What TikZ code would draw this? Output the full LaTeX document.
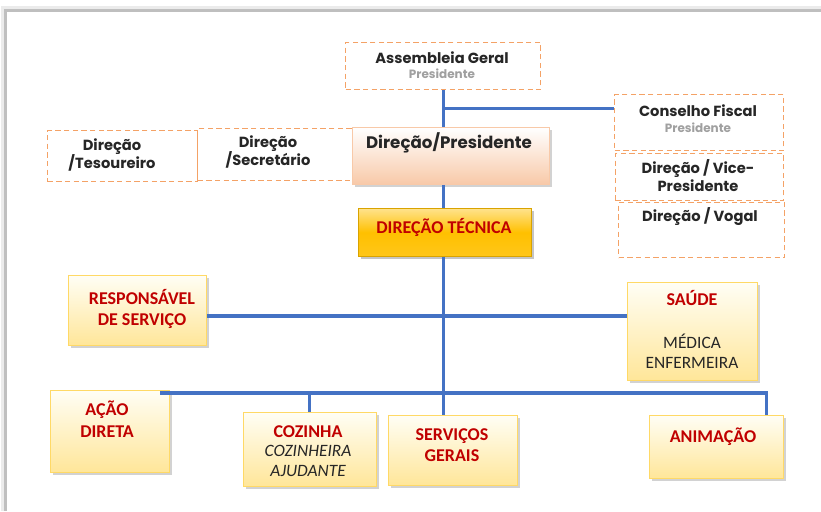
\documentclass[tikz,border=0pt]{standalone}
\usepackage{fontspec}
\setmainfont{Carlito}
\newfontfamily\gothic{Poppins}
\usetikzlibrary{shadows}
\definecolor{linkblue}{HTML}{4472C4}
\definecolor{dashorange}{HTML}{F4A266}
\definecolor{textdark}{HTML}{262626}
\definecolor{graytxt}{HTML}{A0A0A0}
\definecolor{darkred}{HTML}{C00000}
\definecolor{ygold}{HTML}{FFD966}
\definecolor{ytop}{HTML}{FFFEF5}
\definecolor{ybot}{HTML}{FFE699}
\definecolor{peach}{HTML}{F8C9A8}
\definecolor{gold}{HTML}{FFC000}
\tikzset{
    dbox/.style={draw=dashorange, line width=1.1pt, dash pattern=on 4pt off 2.5pt,
      anchor=north west, inner sep=0pt},
    ybox/.style={draw=ygold, line width=0.6pt, top color=ytop, bottom color=ybot,
      anchor=north west, inner sep=0pt,
      drop shadow={shadow xshift=2pt, shadow yshift=-2pt, opacity=0.35}},
    gtxt/.style={font=\gothic\bfseries\fontsize{11}{13.5}\selectfont, text=textdark, align=center},
    subtxt/.style={font=\gothic\bfseries\fontsize{9}{10}\selectfont, text=graytxt},
    rtxt/.style={font=\bfseries\fontsize{13.5}{16}\selectfont, text=darkred, align=center},
    ntxt/.style={font=\fontsize{13}{15}\selectfont, text=textdark, align=center},
    link/.style={draw=linkblue, line width=2.3pt},
}

\begin{document}
\begin{tikzpicture}[x=0.75pt, y=-0.75pt]
    \useasboundingbox (0,0) rectangle (821,511);
    % page
    \fill[black!8] (1,6) rectangle (821,511);
    \fill[black!25] (4,9) rectangle (821,511);
    \fill[white] (7,12) rectangle (821,511);

    % direction boxes
    \node[dbox, minimum width=146.25pt, minimum height=35.25pt] (ag) at (345,42) {};
    \node[dbox, minimum width=126.75pt, minimum height=42pt] (cf) at (614,94) {};
    \node[dbox, minimum width=126pt, minimum height=35.25pt] (vp) at (615,153) {};
    \node[dbox, minimum width=124.5pt, minimum height=41.25pt] (vg) at (618,202) {};
    \node[dbox, minimum width=112.5pt, minimum height=38.25pt] (te) at (47,130) {};
    \node[dbox, minimum width=116.25pt, minimum height=39pt] (se) at (197,128) {};
    \node[draw=peach, line width=0.6pt, top color=white, bottom color=peach, anchor=north west,
      inner sep=0pt, minimum width=147.75pt, minimum height=42.75pt,
      drop shadow={shadow xshift=2pt, shadow yshift=-2pt, opacity=0.35}] (dp) at (352,127) {};
    \node[draw=gold!85!black, line width=0.6pt, top color=gold!45, bottom color=gold!90,
      middle color=gold, anchor=north west, inner sep=0pt,
      minimum width=129.75pt, minimum height=36pt,
      drop shadow={shadow xshift=2pt, shadow yshift=-2pt, opacity=0.45}] (dtec) at (358,208) {};

    % sectors
    \node[ybox, minimum width=103.5pt, minimum height=52.5pt] (rs) at (68,275) {};
    \node[ybox, minimum width=97.5pt, minimum height=73.5pt] (sa) at (627,282) {};
    \node[ybox, minimum width=89.25pt, minimum height=61.5pt] (ad) at (50,390) {};
    \node[ybox, minimum width=99.75pt, minimum height=55.5pt] (cz) at (243,412) {};
    \node[ybox, minimum width=96.75pt, minimum height=52.5pt] (sg) at (388,415) {};
    \node[ybox, minimum width=100.5pt, minimum height=47.25pt] (an) at (649,415) {};

    % texts
    \node[gtxt] (agt) at (442,58) {Assembleia Geral};
    \node[subtxt] (ags) at (442,74) {Presidente};
    \node[gtxt] (cft) at (698,111) {Conselho Fiscal};
    \node[subtxt] (cfs) at (698,128) {Presidente};
    \node[gtxt] (vpt) at (698,176) {Direção / Vice-\\Presidente};
    \node[gtxt] (vgt) at (700,217) {Direção / Vogal};
    \node[gtxt] (tet) at (112,155) {Direção\\/Tesoureiro};
    \node[gtxt] (set) at (268,152) {Direção\\/Secretário};
    \node[gtxt, font=\gothic\bfseries\fontsize{12.5}{14}\selectfont] (dpt) at (449,143) {Direção/Presidente};
    \node[rtxt] (dtt) at (444,227) {DIREÇÃO TÉCNICA};
    \node[rtxt] (rst) at (142,309) {RESPONSÁVEL\\DE SERVIÇO};
    \node[rtxt] (sat) at (692,298) {SAÚDE};
    \node[ntxt] (sas) at (692,351) {MÉDICA\\ENFERMEIRA};
    \node[rtxt] (adt) at (107,419) {AÇÃO\\DIRETA};
    \node[rtxt] (czt) at (308,432) {COZINHA};
    \node[ntxt, font=\itshape\fontsize{13}{15}\selectfont] (czs) at (308,461) {COZINHEIRA\\AJUDANTE};
    \node[rtxt] (sgt) at (452,445) {SERVIÇOS\\GERAIS};
    \node[rtxt] (ant) at (713,437) {ANIMAÇÃO};

    % connectors
    \coordinate (mid) at (441,316);
    \coordinate (bar) at (441,393);
    \draw[link] (ag.south) -- (ag.south |- dp.north);
    \draw[link] ([yshift=11pt]cf.west) -- ([yshift=11pt]cf.west -| ag.south);
    \draw[link] (ag.south |- dp.south) -- (ag.south |- dtec.north);
    \draw[link] (ag.south |- dtec.south) -- (ag.south |- sg.north);
    \draw[link] (rs.east |- mid) -- (sa.west |- mid);
    \draw[link] ([xshift=-7pt]ad.north east |- bar) -| ([xshift=-13pt]an.north east);
    \draw[link] (cz.north) -- (cz.north |- bar);
\end{tikzpicture}
\end{document}
